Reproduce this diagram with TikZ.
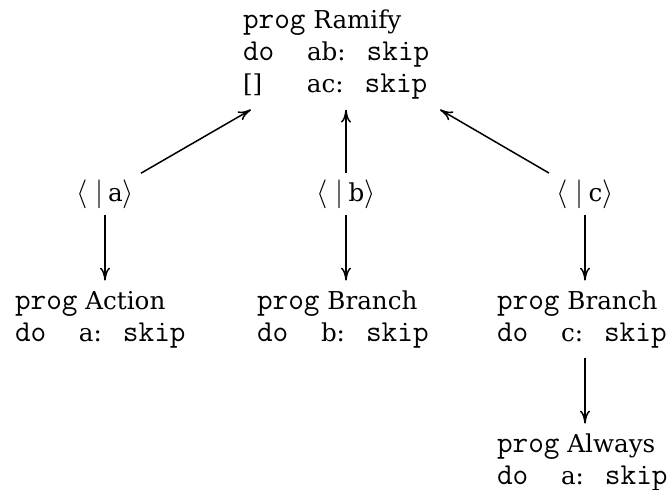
\documentclass[tikz,border=0pt]{standalone}
\usepackage{fontspec}
\setmainfont{DejaVu Serif}
\usetikzlibrary{arrows.meta}
\newcommand{\kw}[1]{{\fontsize{15.2}{16}\selectfont\ttfamily #1}}
\newcommand{\colA}[1]{\makebox[32pt][l]{#1}}
\newcommand{\gapS}{\hspace{10.5pt}}
\newcommand{\lab}[1]{{\fontsize{14}{16}\selectfont$\langle\;|\,$}#1{\fontsize{14}{16}\selectfont$\rangle$}}
\begin{document}
\begin{tikzpicture}[x=0.5pt,y=-0.5pt,
  prognode/.style={anchor=base west,inner sep=0pt,outer sep=0pt,
    font=\fontsize{12.3}{16}\selectfont},
  lbl/.style={anchor=base,inner sep=0pt,outer sep=0pt,minimum width=36pt,
    text height=14.5pt,text depth=6.5pt,font=\fontsize{12.3}{16}\selectfont},
  arr/.style={line width=0.75pt,-{To[length=6.5pt,width=5pt]}}]
\useasboundingbox (0,0) rectangle (668,490);
\newcommand{\prg}[1]{\begin{tabular}[t]{@{}l@{}}#1\end{tabular}}
\node[prognode] (ram) at (243,29) {\prg{\kw{prog} Ramify\\ \colA{\kw{do}}ab:\gapS\kw{skip}\\ \colA{[]}ac:\gapS\kw{skip}}};
\node[lbl] (la) at (105,202) {\lab{a}};
\node[lbl] (lb) at (346,202) {\lab{b}};
\node[lbl] (lc) at (585,202) {\lab{c}};
\node[prognode] (act) at (15,310) {\prg{\kw{prog} Action\\ \colA{\kw{do}}a:\gapS\kw{skip}}};
\node[prognode] (brb) at (257,310) {\prg{\kw{prog} Branch\\ \colA{\kw{do}}b:\gapS\kw{skip}}};
\node[prognode] (brc) at (497,310) {\prg{\kw{prog} Branch\\ \colA{\kw{do}}c:\gapS\kw{skip}}};
\node[prognode] (alw) at (497,453) {\prg{\kw{prog} Always\\ \colA{\kw{do}}a:\gapS\kw{skip}}};
\coordinate (ra) at ([shift={(8,7)}]ram.south west);
\coordinate (rb) at ([shift={(0,7)}]ram.south -| lb);
\coordinate (rc) at ([shift={(197,7)}]ram.south west);
\draw[arr] (la) -- (ra);
\draw[arr] (lb) -- (rb);
\draw[arr] (lc) -- (rc);
\draw[arr] (la.south) -- ([shift={(0,-7)}]la.south |- act.north);
\draw[arr] (lb.south) -- ([shift={(0,-7)}]lb.south |- brb.north);
\draw[arr] (lc.south) -- ([shift={(0,-7)}]lc.south |- brc.north);
\draw[arr] ([shift={(0,6)}]brc.south -| lc) -- ([shift={(0,-7)}]alw.north -| lc);
\end{tikzpicture}
\end{document}
